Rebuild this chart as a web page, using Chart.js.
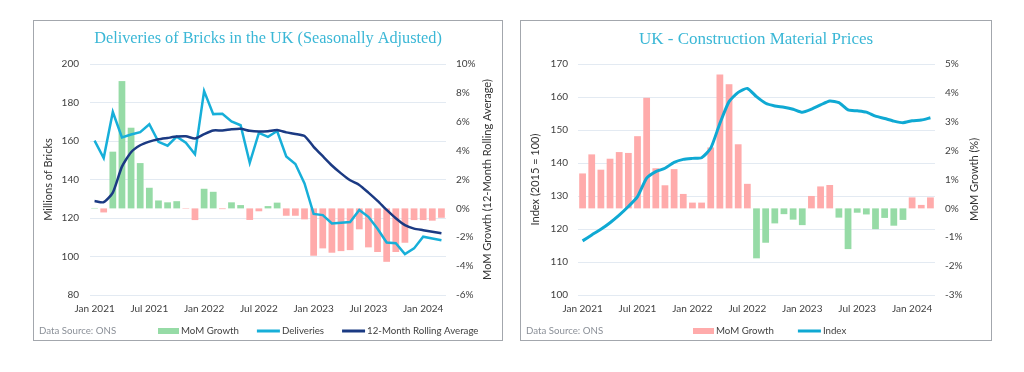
<!DOCTYPE html>
<html>
<head>
<meta charset="utf-8">
<script src="https://cdn.jsdelivr.net/npm/chart.js@4.4.1/dist/chart.umd.min.js"></script>
<style>
  html, body { margin: 0; padding: 0; background: #fff; }
  body { width: 1024px; height: 372px; position: relative; overflow: hidden; }
  .panel { position: absolute; top: 20px; height: 321px; }
  .panel::after {
    content: ""; position: absolute; inset: 0;
    border: 1.5px solid #a3a7ad; pointer-events: none;
  }
  #panel1 { left: 33px; width: 470px; }
  #panel2 { left: 520px; width: 472px; }
</style>
</head>
<body>
<div class="panel" id="panel1"><canvas id="chart1"></canvas></div>
<div class="panel" id="panel2"><canvas id="chart2"></canvas></div>

<script>
const months = [
  'Jan 2021', 'Feb 2021', 'Mar 2021', 'Apr 2021', 'May 2021', 'Jun 2021',
  'Jul 2021', 'Aug 2021', 'Sep 2021', 'Oct 2021', 'Nov 2021', 'Dec 2021',
  'Jan 2022', 'Feb 2022', 'Mar 2022', 'Apr 2022', 'May 2022', 'Jun 2022',
  'Jul 2022', 'Aug 2022', 'Sep 2022', 'Oct 2022', 'Nov 2022', 'Dec 2022',
  'Jan 2023', 'Feb 2023', 'Mar 2023', 'Apr 2023', 'May 2023', 'Jun 2023',
  'Jul 2023', 'Aug 2023', 'Sep 2023', 'Oct 2023', 'Nov 2023', 'Dec 2023',
  'Jan 2024', 'Feb 2024', 'Mar 2024'
];

// Bricks (millions, seasonally adjusted)
const deliveries = [160.2, 151.2, 175.1, 161.9, 163.4, 164.6, 168.7, 159.6, 157.6, 162.3, 159.1, 153.1,
  186.0, 174.0, 174.2, 170.2, 168.2, 148.7, 164.2, 162.2, 165.2, 152.0, 148.1, 138.0,
  122.1, 121.5, 117.2, 117.6, 117.9, 124.2, 120.6, 114.4, 107.3, 106.9, 101.3, 104.2,
  110.3, 109.4, 108.5];
const rollingAvg = [128.8, 128.2, 133.2, 146.7, 154.2, 157.8, 159.7, 160.9, 161.6, 162.3, 162.5, 161.3,
  163.6, 165.5, 165.5, 166.1, 166.4, 165.3, 164.9, 165.1, 165.7, 164.5, 163.7, 162.6,
  157.0, 152.1, 147.3, 143.2, 139.6, 137.2, 133.2, 128.9, 124.2, 119.9, 116.3, 114.5,
  113.7, 112.9, 112.1];
const bricksMoM = [0.03, -0.28, 3.93, 8.82, 5.59, 3.14, 1.43, 0.55, 0.42, 0.5, -0.03, -0.81,
  1.36, 1.15, -0.05, 0.42, 0.23, -0.8, -0.2, 0.16, 0.4, -0.51, -0.51, -0.76,
  -3.28, -2.77, -3.07, -2.96, -2.89, -1.45, -2.7, -3.02, -3.7, -3.02, -2.38, -0.81,
  -0.81, -0.85, -0.65];

// Construction material price index (2015 = 100)
const priceIndex = [116.4, 118.2, 119.9, 121.9, 124.2, 126.8, 129.8, 135.4, 137.4, 138.4, 140.2, 141.1,
  141.4, 141.6, 144.5, 152.0, 158.6, 161.4, 162.6, 160.1, 158.1, 157.3, 156.9, 156.3,
  155.4, 156.3, 157.6, 158.8, 158.3, 156.1, 155.8, 155.4, 154.2, 153.5, 152.7, 152.2,
  152.8, 153.0, 153.7];
const priceMoM = [1.21, 1.87, 1.34, 1.72, 1.95, 1.92, 2.5, 3.83, 1.39, 0.8, 1.36, 0.5,
  0.2, 0.2, 2.11, 4.64, 4.3, 2.22, 0.85, -1.73, -1.19, -0.52, -0.2, -0.39,
  -0.58, 0.43, 0.76, 0.81, -0.32, -1.41, -0.15, -0.21, -0.72, -0.33, -0.6, -0.4,
  0.38, 0.12, 0.38];

const GREEN = '#96dba6';
const RED = '#ffabab';
const FONT = "Lato, 'Noto Sans', sans-serif";

Chart.defaults.font.family = FONT;
Chart.defaults.font.size = 10;
Chart.defaults.color = '#404040';

// bottom row (data source + series keys) and the right axis title, read bottom-up
const footerLegend = {
  id: 'footerLegend',
  afterDraw(chart, args, opts) {
    const ctx = chart.ctx;
    const area = chart.chartArea;
    ctx.save();
    ctx.font = '9.7px ' + FONT;
    ctx.textBaseline = 'middle';

    ctx.save();
    ctx.translate(opts.rightTitleX, (area.top + area.bottom) / 2);
    ctx.rotate(-Math.PI / 2);
    ctx.textAlign = 'center';
    ctx.fillStyle = '#333';
    ctx.font = '11px ' + FONT;
    ctx.fillText(opts.rightTitle, 0, 0);
    ctx.restore();

    ctx.fillStyle = '#8b9098';
    ctx.fillText('Data Source: ONS', opts.sourceX, opts.y);

    let x = opts.startX;
    chart.data.datasets.forEach(ds => {
      if (ds.type === 'bar') {
        ctx.fillStyle = ds.legendColor;
        ctx.fillRect(x, opts.y - 3, 21, 6);
        x += 21;
      } else {
        ctx.strokeStyle = ds.borderColor;
        ctx.lineWidth = 3;
        ctx.beginPath();
        ctx.moveTo(x, opts.y);
        ctx.lineTo(x + 23, opts.y);
        ctx.stroke();
        x += 23;
      }
      x += 2;
      ctx.fillStyle = '#404040';
      ctx.fillText(ds.label, x, opts.y);
      x += ctx.measureText(ds.label).width + opts.gap;
    });
    ctx.restore();
  }
};

function makeChart(canvasId, cfg) {
  const ctx = document.getElementById(canvasId).getContext('2d');
  return new Chart(ctx, {
    data: { labels: months, datasets: cfg.datasets },
    plugins: [footerLegend],
    options: {
      responsive: true,
      maintainAspectRatio: false,
      animation: false,
      layout: { padding: { bottom: 24 } },
      plugins: {
        legend: { display: false },
        tooltip: { enabled: false },
        title: {
          display: true,
          text: cfg.title,
          color: '#3ab7d6',
          font: { family: "'Liberation Serif', serif", size: cfg.titleSize, weight: 'normal' },
          padding: { top: 9, bottom: cfg.titleGap }
        },
        footerLegend: cfg.legend
      },
      scales: {
        x: {
          grid: { display: false, drawTicks: false },
          border: { display: false },
          ticks: {
            autoSkip: false,
            maxRotation: 0,
            padding: 8,
            callback: function (value, index) {
              return index % 6 === 0 ? this.getLabelForValue(value) : '';
            }
          },
          afterFit: s => { s.height = 22; }
        },
        y: {
          position: 'left',
          min: cfg.left.min, max: cfg.left.max,
          ticks: { stepSize: cfg.left.step, padding: cfg.left.pad },
          grid: { color: '#e3eaf2', drawTicks: false },
          border: { display: false },
          title: { display: true, text: cfg.left.title, color: '#333', font: { size: 11 }, padding: { top: 9, bottom: 0 } },
          afterFit: s => { s.width = cfg.left.width; }
        },
        y1: {
          position: 'right',
          min: cfg.right.min, max: cfg.right.max,
          ticks: { stepSize: cfg.right.step, padding: 10, callback: v => v + '%' },
          grid: { display: false, drawTicks: false },
          border: { display: false },
          afterFit: s => { s.width = 57; }
        }
      }
    }
  });
}

makeChart('chart1', {
  title: 'Deliveries of Bricks in the UK (Seasonally Adjusted)',
  titleSize: 16.3, titleGap: 15.5,
  left: { min: 80, max: 200, step: 20, pad: 11, width: 57, title: 'Millions of Bricks' },
  right: { min: -6, max: 10, step: 2 },
  legend: { y: 311, sourceX: 6, startX: 125, gap: 18, rightTitleX: 454, rightTitle: 'MoM Growth (12-Month Rolling Average)' },
  datasets: [
    {
      type: 'bar', label: 'MoM Growth', data: bricksMoM, yAxisID: 'y1', order: 3,
      legendColor: GREEN,
      backgroundColor: c => c.raw >= 0 ? GREEN : RED,
      categoryPercentage: 0.9, barPercentage: 0.82
    },
    {
      type: 'line', label: 'Deliveries', data: deliveries, yAxisID: 'y', order: 2,
      borderColor: '#17afd9', borderWidth: 2.5, pointRadius: 0, tension: 0
    },
    {
      type: 'line', label: '12-Month Rolling Average', data: rollingAvg, yAxisID: 'y', order: 1,
      borderColor: '#1b3a83', borderWidth: 2.5, pointRadius: 0, tension: 0.2
    }
  ]
});

makeChart('chart2', {
  title: 'UK - Construction Material Prices',
  titleSize: 17, titleGap: 14.6,
  left: { min: 100, max: 170, step: 10, pad: 10, width: 58, title: 'Index (2015 = 100)' },
  right: { min: -3, max: 5, step: 1 },
  legend: { y: 311, sourceX: 6, startX: 173, gap: 24, rightTitleX: 454, rightTitle: 'MoM Growth (%)' },
  datasets: [
    {
      type: 'bar', label: 'MoM Growth', data: priceMoM, yAxisID: 'y1', order: 2,
      legendColor: RED,
      backgroundColor: c => c.raw >= 0 ? RED : GREEN,
      categoryPercentage: 0.9, barPercentage: 0.82
    },
    {
      type: 'line', label: 'Index', data: priceIndex, yAxisID: 'y', order: 1,
      borderColor: '#0fa9d3', borderWidth: 3, pointRadius: 0, tension: 0.2
    }
  ]
});
</script>
</body>
</html>
